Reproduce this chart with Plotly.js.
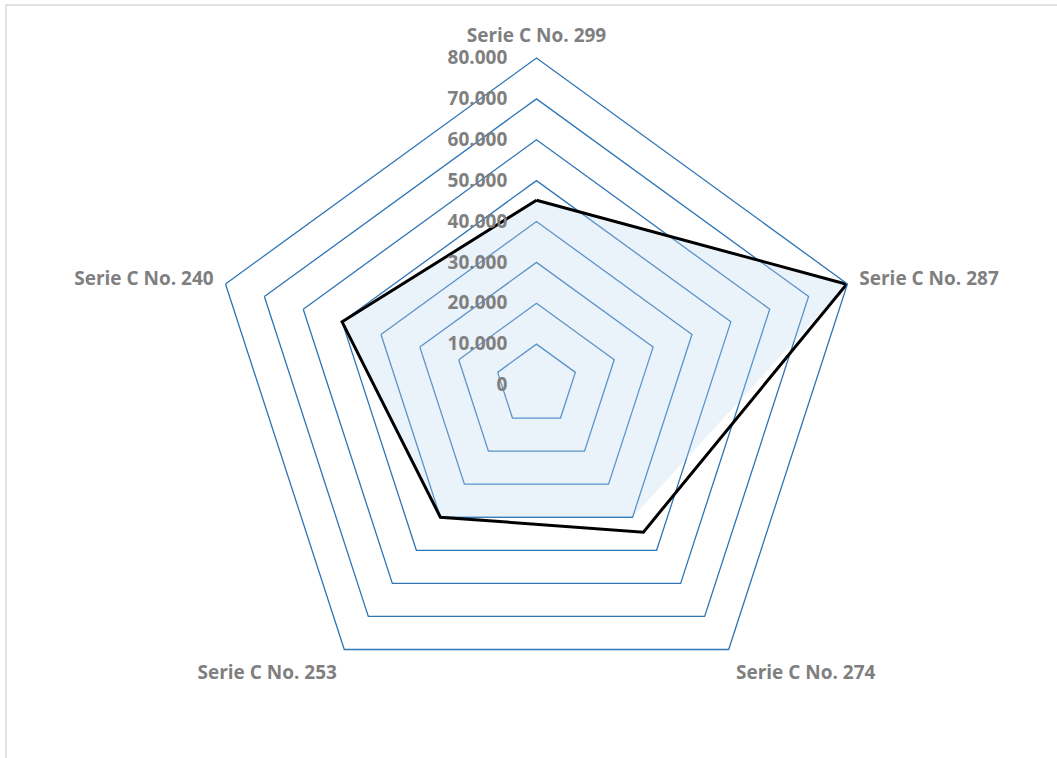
<!DOCTYPE html>
<html>
<head>
<meta charset="utf-8">
<script src="https://cdn.plot.ly/plotly-3.0.1.min.js"></script>
<style>html,body{margin:0;padding:0;background:#fff;}#chart{width:1057px;height:758px;}</style>
</head>
<body>
<div id="chart"></div>
<script>
const categories = ["Serie C No. 299", "Serie C No. 287", "Serie C No. 274", "Serie C No. 253", "Serie C No. 240"];
const lineValues = [45200, 79800, 44500, 40000, 50000];
const areaValues = [45200, 79800, 40000, 40000, 50000];
const radialTicks = [0, 10000, 20000, 30000, 40000, 50000, 60000, 70000, 80000];

const closeLoop = a => a.concat([a[0]]);

const traces = [
  {
    type: 'scatterpolar',
    r: closeLoop(areaValues),
    theta: closeLoop(categories),
    mode: 'lines',
    fill: 'toself',
    fillcolor: 'rgba(189,215,238,0.32)',
    line: {width: 0, color: 'rgba(0,0,0,0)'},
    hoverinfo: 'skip',
    showlegend: false
  },
  {
    type: 'scatterpolar',
    r: closeLoop(lineValues),
    theta: closeLoop(categories),
    mode: 'lines',
    line: {color: '#000000', width: 3},
    showlegend: false
  }
];

const gridBlue = '#2E75B6';
const grey = '#7F7F7F';
const fontFam = 'Open Sans, Liberation Sans, Arial, sans-serif';

const layout = {
  width: 1057,
  height: 758,
  margin: {l: 0, r: 0, t: 0, b: 0},
  paper_bgcolor: '#ffffff',
  separators: ',.',
  showlegend: false,
  polar: {
    domain: {x: [0.1982, 0.8169], y: [0.0607, 0.9235]},
    gridshape: 'linear',
    bgcolor: 'rgba(0,0,0,0)',
    radialaxis: {
      range: [0, 80000],
      tickvals: radialTicks,
      tickformat: ',d',
      angle: 90,
      tickangle: 90,
      side: 'counterclockwise',
      showline: false,
      ticks: 'outside',
      ticklen: 22,
      tickcolor: 'rgba(0,0,0,0)',
      gridcolor: gridBlue,
      gridwidth: 1.3,
      tickfont: {family: fontFam, size: 19, color: grey, weight: 'bold'}
    },
    angularaxis: {
      type: 'category',
      categoryarray: categories,
      rotation: 90,
      direction: 'clockwise',
      showgrid: false,
      showline: true,
      linecolor: gridBlue,
      linewidth: 1.3,
      ticks: 'outside',
      ticklen: 8,
      tickcolor: 'rgba(0,0,0,0)',
      tickfont: {family: fontFam, size: 19, color: grey, weight: 'bold'}
    }
  },
  shapes: [
    {type: 'rect', xref: 'paper', yref: 'paper', x0: 0.0057, x1: 1.01, y0: -0.01, y1: 0.9934,
     line: {color: '#d9d9d9', width: 1.5}, fillcolor: 'rgba(0,0,0,0)', layer: 'below'}
  ]
};

Plotly.newPlot('chart', traces, layout, {displayModeBar: false, staticPlot: true});
</script>
</body>
</html>
